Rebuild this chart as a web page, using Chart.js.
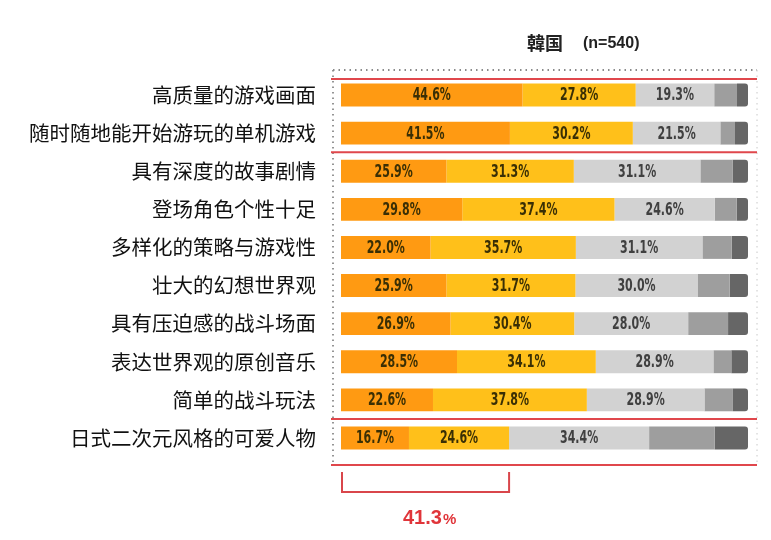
<!DOCTYPE html>
<html>
<head>
<meta charset="utf-8">
<script src="https://cdn.jsdelivr.net/npm/chart.js@4"></script>
<style>
  html, body { margin: 0; padding: 0; background: #fff; }
  #wrap { width: 771px; height: 540px; }
</style>
</head>
<body>
<div id="wrap"><canvas id="c" width="771" height="540"></canvas></div>
<script>
const categories = ['高质量的游戏画面', '随时随地能开始游玩的单机游戏', '具有深度的故事剧情', '登场角色个性十足',
    '多样化的策略与游戏性', '壮大的幻想世界观', '具有压迫感的战斗场面', '表达世界观的原创音乐', '简单的战斗玩法', '日式二次元风格的可爱人物']
const veryImportant = [44.6, 41.5, 25.9, 29.8, 22.0, 25.9, 26.9, 28.5, 22.6, 16.7]
const important = [27.8, 30.2, 31.3, 37.4, 35.7, 31.7, 30.4, 34.1, 37.8, 24.6]
const neutral = [19.3, 21.5, 31.1, 24.6, 31.1, 30.0, 28.0, 28.9, 28.9, 34.4]
const notImportant = [5.6, 3.6, 7.9, 5.4, 7.2, 7.9, 9.8, 4.4, 7.0, 16.1]
const notAtAll = [2.7, 3.2, 3.8, 2.8, 4.0, 4.5, 4.9, 4.1, 3.7, 8.2]
const bracketValue = 41.3

const colors = ['#FF9A12', '#FFC01A', '#D2D2D2', '#9E9E9E', '#666666']

Chart.defaults.animation = false
Chart.defaults.font.family = '"Noto Sans CJK SC", "Noto Sans", sans-serif'

const labelPlugin = {
    id: 'segLabels',
    afterDatasetsDraw(chart) {
        const ctx = chart.ctx
        ctx.save()
        ctx.font = 'bold 17px "Liberation Sans Narrow", "DejaVu Sans Condensed", sans-serif'
        ctx.textAlign = 'center'
        ctx.textBaseline = 'middle'
        for (let d = 0; d < 3; d++) {
            const meta = chart.getDatasetMeta(d)
            const data = chart.data.datasets[d].data
            meta.data.forEach((bar, i) => {
                ctx.fillStyle = d < 2 ? '#3a2f05' : '#404040'
                const x = (bar.x + bar.base) / 2
                ctx.save()
                ctx.translate(x, bar.y + 1)
                ctx.scale(0.72, 1)
                ctx.fillText(data[i].toFixed(1) + '%', 0, 0)
                ctx.restore()
            })
        }
        ctx.restore()
    }
}

const decorPlugin = {
    id: 'decor',
    beforeDatasetsDraw(chart) {
        const ctx = chart.ctx
        const left = 333, right = 757
        const top = 70, bottom = 466
        ctx.save()
        // dotted frame
        ctx.strokeStyle = '#8a8a8a'
        ctx.lineWidth = 1.8
        ctx.setLineDash([1.5, 4])
        ctx.beginPath()
        ctx.moveTo(left, top); ctx.lineTo(right, top)
        ctx.moveTo(left, top); ctx.lineTo(left, bottom)
        ctx.stroke()
        ctx.lineWidth = 1
        ctx.strokeStyle = '#c8c8c8'
        ctx.beginPath()
        ctx.moveTo(right, top); ctx.lineTo(right, bottom)
        ctx.stroke()
        ctx.restore()
    },
    afterDatasetsDraw(chart) {
        const ctx = chart.ctx
        const x = chart.scales.x
        const y = chart.scales.y
        const left = 331, right = 757
        const p = i => y.getPixelForValue(i)
        const lines = [p(0) - 16, (p(1) + p(2)) / 2, (p(8) + p(9)) / 2, p(9) + 27]
        ctx.save()
        ctx.strokeStyle = '#E0474C'
        ctx.lineWidth = 2
        ctx.beginPath()
        lines.forEach(ly => { ctx.moveTo(left, ly); ctx.lineTo(right, ly) })
        ctx.stroke()
        // bracket
        const bx0 = x.getPixelForValue(0) + 1
        const bx1 = x.getPixelForValue(bracketValue)
        ctx.strokeStyle = '#D9464B'
        ctx.beginPath()
        ctx.moveTo(bx0, 472); ctx.lineTo(bx0, 492); ctx.lineTo(bx1, 492); ctx.lineTo(bx1, 472)
        ctx.stroke()
        ctx.fillStyle = '#E0353A'
        ctx.textBaseline = 'alphabetic'
        ctx.textAlign = 'left'
        ctx.font = 'bold 20px "Liberation Sans", Arial, sans-serif'
        const num = bracketValue.toFixed(1)
        ctx.fillText(num, 403, 524)
        const w = ctx.measureText(num).width
        ctx.font = 'bold 15px "Liberation Sans", Arial, sans-serif'
        ctx.fillText('%', 403 + w + 1, 524)
        // title
        ctx.fillStyle = '#222'
        ctx.textBaseline = 'middle'
        ctx.font = 'bold 18px "Noto Sans CJK JP", "Noto Sans CJK SC", sans-serif'
        ctx.fillText('韓国', 527, 43)
        ctx.font = 'bold 16px "Liberation Sans", Arial, sans-serif'
        ctx.fillText('(n=540)', 583, 44)
        ctx.restore()
    }
}

const datasets = [veryImportant, important, neutral, notImportant, notAtAll].map((arr, i) => ({
    data: arr,
    backgroundColor: colors[i],
    borderWidth: 0,
    borderSkipped: false,
    borderRadius: i === 4 ? {topRight: 3, bottomRight: 3} : 0,
    barPercentage: 0.6,
    categoryPercentage: 1.0,
}))

new Chart(document.getElementById('c'), {
    type: 'bar',
    data: {
        labels: categories,
        datasets: datasets
    },
    options: {
        indexAxis: 'y',
        responsive: false,
        maintainAspectRatio: false,
        layout: {
            padding: {left: 0, right: 23, top: 76, bottom: 83}
        },
        scales: {
            x: {
                stacked: true,
                display: false,
                min: 0,
                max: 100,
            },
            y: {
                stacked: true,
                grid: {display: false, drawTicks: false},
                border: {display: false},
                ticks: {
                    color: '#111',
                    padding: 25,
                    font: {size: 20.5, family: '"Noto Sans CJK SC", sans-serif', weight: 'normal'},
                    autoSkip: false,
                },
                afterFit(scale) {
                    scale.width = 341
                }
            }
        },
        plugins: {
            legend: {display: false},
            tooltip: {enabled: false},
        },
    },
    plugins: [decorPlugin, labelPlugin]
})
</script>
</body>
</html>
